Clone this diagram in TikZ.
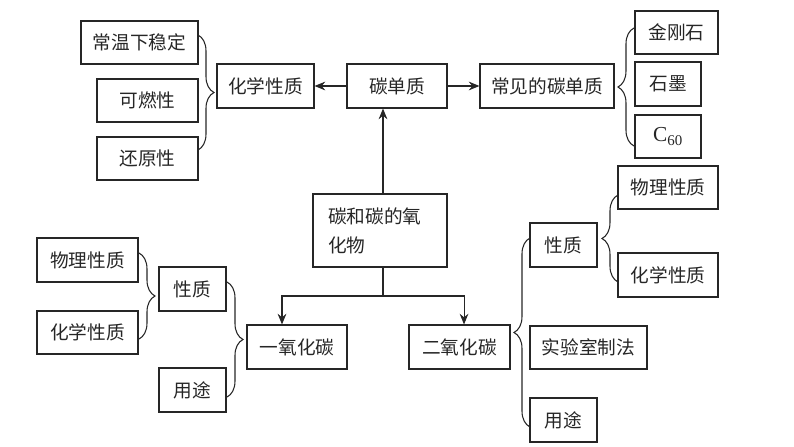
\documentclass[tikz,border=0pt]{standalone}
\usepackage{fontspec}
\setmainfont{Liberation Serif}
\newfontfamily\cjk{Noto Sans CJK SC}
\usetikzlibrary{arrows.meta,decorations.pathreplacing}
\begin{document}
\begin{tikzpicture}[x=0.75pt,y=-0.75pt,
  box/.style={draw=black!85, line width=0.8pt, inner sep=0pt, text=black!85, font=\cjk\fontsize{14}{18}\selectfont},
  sz/.style 2 args={minimum width=#1*0.75pt, minimum height=#2*0.75pt},
  arr/.style={draw=black!85, line width=0.8pt, -{Stealth[length=8pt,width=6.5pt]}},
  ln/.style={draw=black!85, line width=0.8pt},
  brc/.style={draw=black!85, line width=0.8pt, decorate, decoration={brace, amplitude=#1}},
]
\useasboundingbox (0,0) rectangle (794,447);

% top row
\node[box, sz={117}{43}] (a1) at (139.5,42.5) {常温下稳定};
\node[box, sz={101}{43}] (a2) at (147.5,100.5) {可燃性};
\node[box, sz={101}{43}] (a3) at (147.5,158.5) {还原性};
\node[box, sz={97}{44}] (hx) at (265.5,86) {化学性质};
\node[box, sz={100}{44}] (tdz) at (397,86) {碳单质};
\node[box, sz={134}{44}] (cj) at (547,86) {常见的碳单质};
\node[box, sz={83}{43}] (jg) at (676.5,32.5) {金刚石};
\node[box, sz={66}{44}] (sm) at (668,84) {石墨};
\node[box, sz={66}{43}, font=\fontsize{16}{18}\selectfont] (c60) at (668,136.5) {C\textsubscript{60}};

% root
\node[box, sz={134}{73}, text width=78pt, align=left, inner xsep=11.25pt,
      font=\cjk\fontsize{14}{21.75}\selectfont] (root) at (380,230.5) {碳和碳的氧\\化物};

% CO side
\node[box, sz={100}{44}] (co) at (297,347) {一氧化碳};
\node[box, sz={101}{44}] (lwl) at (87.5,260) {物理性质};
\node[box, sz={101}{43}] (lhx) at (87.5,332.5) {化学性质};
\node[box, sz={67}{44}] (lxz) at (192.5,289) {性质};
\node[box, sz={67}{44}] (lyt) at (192.5,390) {用途};

% CO2 side
\node[box, sz={101}{44}] (co2) at (459.5,347) {二氧化碳};
\node[box, sz={67}{44}] (rxz) at (563.5,245) {性质};
\node[box, sz={117}{43}] (sys) at (588.5,347.5) {实验室制法};
\node[box, sz={67}{44}] (ryt) at (563.5,420) {用途};
\node[box, sz={100}{43}] (rwl) at (668,187.5) {物理性质};
\node[box, sz={100}{44}] (rhx) at (668,275) {化学性质};

% arrows
\draw[arr] (tdz.west) -- (hx.east);
\draw[arr] (tdz.east) -- (cj.west);
\draw[arr] ([xshift=2.25pt]root.north) -- ([xshift=2.25pt]root.north |- tdz.south);
\coordinate (j) at ([xshift=2.25pt]root.south |- 0,296);
\draw[ln] ([xshift=2.25pt]root.south) -- (j);
\draw[arr] (j) -| ([xshift=-11.25pt]co.north);
\draw[arr] (j) -| ([xshift=3.4pt]co2.north);

% braces
\coordinate (b1s) at (198,35);  \coordinate (b1e) at (198,150);
\draw[brc=12pt] (b1s) -- (b1e);
\coordinate (b2s) at (634,146); \coordinate (b2e) at (634,28);
\draw[brc=12pt] (b2s) -- (b2e);
\coordinate (b3s) at (139,253); \coordinate (b3e) at (139,339);
\draw[brc=12pt] (b3s) -- (b3e);
\coordinate (b4s) at (227,282); \coordinate (b4e) at (227,397);
\draw[brc=12pt] (b4s) -- (b4e);
\coordinate (b5s) at (530,427); \coordinate (b5e) at (530,238);
\draw[brc=12pt] (b5s) -- (b5e);
\coordinate (b6s) at (618,282); \coordinate (b6e) at (618,195);
\draw[brc=12pt] (b6s) -- (b6e);
\end{tikzpicture}
\end{document}
